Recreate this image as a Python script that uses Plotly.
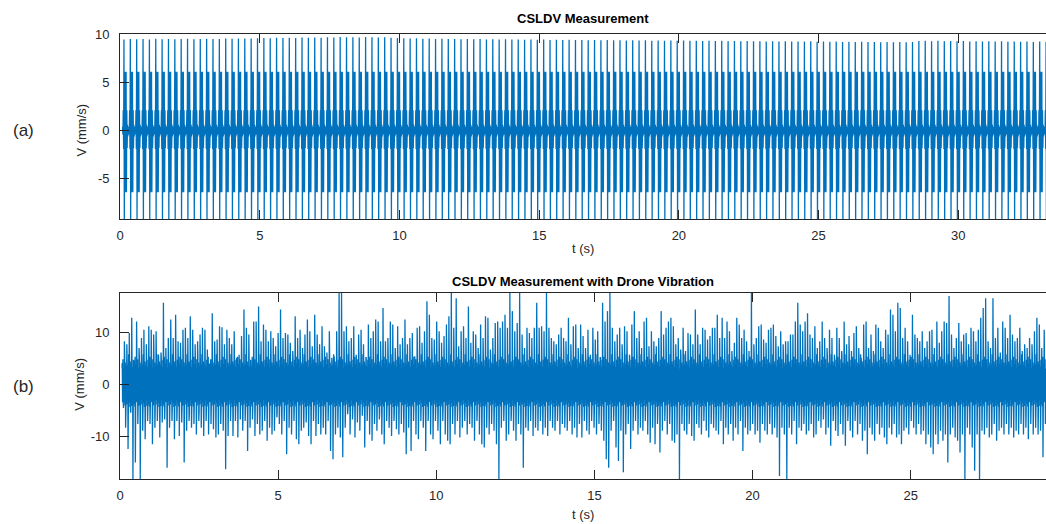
import plotly.graph_objects as go

# ---------------- (a) CSLDV Measurement ----------------
# pulse train: one pulse per laser scan period (values read from the picture)
scan_period = 0.2276          # s, spacing of the tall pulses
first_pulse_time = 0.14       # s
# one scan period of the signal (mm/s); None marks the tall peak of that pulse
pulse_template = [0.4, -0.4, 2.1, -1.9, None, -9.5, 6.1, -6.4, 6.0, -6.3, 6.1, -6.4,
                  2.1, -1.8, 0.6, -0.6, 0.4, -0.4]
peak_index = 4
# tall peak heights, pulse by pulse (mm/s)
pulse_peaks = [
    9.45, 9.50, 9.48, 9.50, 9.46, 9.52, 9.48, 9.50, 9.47, 9.50,
    9.52, 9.48, 9.50, 9.53, 9.49, 9.51, 9.55, 9.52, 9.54, 9.56,
    9.55, 9.58, 9.60, 9.57, 9.62, 9.60, 9.63, 9.61, 9.65, 9.62,
    9.66, 9.64, 9.68, 9.65, 9.70, 9.67, 9.69, 9.66, 9.70, 9.68,
    9.65, 9.67, 9.63, 9.60, 9.58, 9.55, 9.57, 9.53, 9.55, 9.50,
    9.52, 9.49, 9.51, 9.48, 9.50, 9.47, 9.49, 9.46, 9.48, 9.45,
    9.47, 9.44, 9.46, 9.43, 9.45, 9.42, 9.44, 9.41, 9.43, 9.40,
    9.42, 9.39, 9.41, 9.38, 9.40, 9.37, 9.39, 9.36, 9.38, 9.35,
    9.37, 9.34, 9.36, 9.33, 9.35, 9.32, 9.34, 9.33, 9.35, 9.31,
    9.33, 9.30, 9.32, 9.29, 9.31, 9.28, 9.30, 9.27, 9.29, 9.26,
    9.28, 9.25, 9.27, 9.24, 9.26, 9.23, 9.25, 9.24, 9.26, 9.22,
    9.24, 9.21, 9.23, 9.20, 9.22, 9.19, 9.21, 9.18, 9.20, 9.17,
    9.19, 9.16, 9.18, 9.17, 9.19, 9.30, 9.32, 9.28, 9.31, 9.27,
    9.30, 9.26, 9.29, 9.25, 9.28, 9.24, 9.27, 9.23, 9.26, 9.22,
    9.25, 9.21, 9.24, 9.20, 9.23, 9.22,
]

# ---------------- (b) CSLDV Measurement with Drone Vibration ----------------
record_start_b = 0.06         # s
record_end_b = 29.3           # s
# successive upper extremes of the noisy record (mm/s), read left to right
upper_peaks = [
    # 0 - 7.4 s
    3.3, 8.4, 7.8, 10.0, 12.9, 4.6, 12.2, 7.1, 9.0, 10.6,
    7.8, 11.3, 10.6, 9.7, 10.3, 5.8, 6.2, 15.8, 7.1, 9.0,
    12.6, 9.0, 13.5, 8.4, 8.1, 10.6, 11.0, 9.0, 13.2, 10.6,
    7.8, 8.4, 9.7, 11.0, 10.6, 6.8, 3.3, 13.8, 8.4, 8.7,
    11.3, 11.1, 7.8, 10.6, 9.0, 7.8, 10.3, 5.2, 5.8, 9.4,
    14.5, 11.0, 9.7, 3.6, 12.2, 12.2, 15.1, 8.4, 11.6, 10.6,
    8.4, 10.3, 9.0, 7.4, 10.0, 14.5, 9.0, 10.0, 9.7, 8.1,
    6.5, 13.2, 9.0, 10.6, 7.1, 9.7, 12.6, 10.3, 7.4, 13.5,
    9.7, 7.8, 11.3, 7.4, 6.2, 10.3, 5.2, 5.5, 10.3, 17.7,
    # 7.4 - 14.7 s
    17.7, 10.3, 11.3, 8.4, 9.0, 11.3, 5.8, 9.7, 10.6, 7.8,
    5.2, 11.6, 9.0, 10.3, 12.6, 12.2, 8.4, 14.8, 8.4, 9.0,
    12.2, 11.6, 7.1, 11.3, 7.8, 9.0, 12.6, 7.8, 9.0, 10.0,
    5.5, 11.0, 11.3, 8.1, 10.3, 16.1, 13.5, 9.0, 8.7, 12.2,
    10.3, 8.1, 9.4, 11.6, 13.2, 17.7, 11.0, 16.7, 7.4, 10.3,
    11.3, 9.0, 15.1, 8.1, 10.3, 9.7, 7.1, 11.6, 9.0, 13.2,
    12.9, 6.8, 9.0, 11.9, 12.2, 11.0, 12.2, 13.5, 11.0, 17.7,
    14.2, 10.3, 11.9, 17.7, 9.7, 7.1, 11.0, 10.0, 9.0, 11.0,
    15.8, 11.0, 11.3, 10.3, 17.7, 11.0, 9.0, 8.4, 7.8, 9.7,
    11.0, 9.0, 8.4, 12.9, 7.8, 11.3, 11.6, 7.1,
    # 14.7 - 22.1 s
    11.6, 9.4, 7.1, 10.6, 5.8, 11.0, 8.7, 10.3, 5.2, 15.8,
    12.2, 14.2, 17.7, 11.0, 8.4, 9.7, 11.0, 7.8, 11.3, 10.3,
    5.8, 11.6, 14.2, 9.0, 10.3, 7.1, 12.2, 12.9, 7.4, 10.3,
    8.4, 7.4, 9.0, 14.2, 9.7, 11.0, 12.2, 12.9, 11.3, 7.8,
    9.0, 6.8, 11.0, 6.5, 10.0, 9.7, 7.8, 14.5, 9.7, 7.8,
    11.0, 10.6, 8.7, 9.4, 11.0, 11.0, 13.5, 9.0, 12.9, 9.0,
    12.2, 10.3, 6.5, 8.1, 12.9, 11.6, 9.0, 10.6, 8.4, 6.5,
    17.7, 7.8, 9.0, 11.3, 11.6, 8.7, 8.1, 10.6, 11.0, 11.6,
    9.4, 7.4, 10.3, 7.8, 8.4, 8.4, 9.7, 9.7, 12.2, 15.8,
    11.6, 10.3, 12.2, 13.8, 9.7, 9.0,
    # 22.1 - 29.3 s
    11.3, 7.1, 8.4, 12.2, 9.0, 7.1, 10.6, 9.0, 5.8, 11.0,
    9.0, 6.5, 12.2, 7.8, 9.4, 6.5, 10.0, 11.3, 7.1, 5.2,
    11.6, 12.2, 7.1, 9.7, 6.5, 11.6, 11.0, 8.4, 7.1, 10.6,
    9.7, 14.5, 13.5, 10.3, 15.8, 14.8, 9.0, 11.0, 8.4, 5.8,
    13.5, 9.7, 9.0, 8.4, 10.3, 7.1, 8.4, 10.3, 10.6, 7.1,
    12.2, 8.1, 10.3, 12.2, 11.9, 17.1, 9.7, 7.1, 9.0, 11.9,
    8.4, 9.7, 10.0, 7.8, 11.0, 10.3, 8.4, 10.6, 12.9, 14.8,
    16.7, 8.4, 7.1, 16.7, 9.0, 11.0, 6.2, 12.2, 11.0, 9.0,
    13.5, 9.7, 8.4, 9.0, 11.0, 6.5, 7.8, 7.1, 9.0, 7.8,
    10.3, 12.9, 11.6, 7.1, 10.6,
]
# successive lower extremes of the noisy record (mm/s)
lower_peaks = [
    # 0 - 7.4 s
    -2.5, -8.3, -12.4, -5.1, -18.4, -15.0, -7.6, -18.4, -8.9, -10.5,
    -7.0, -7.6, -11.5, -8.3, -7.0, -10.2, -7.3, -6.7, -16.0, -8.3,
    -7.0, -10.5, -7.0, -9.9, -7.3, -15.0, -8.9, -7.0, -8.3, -7.6,
    -9.6, -7.0, -8.3, -9.9, -7.0, -9.6, -7.6, -8.6, -10.2, -9.6,
    -7.6, -8.9, -16.3, -9.9, -7.0, -9.9, -7.0, -10.2, -6.7, -8.9,
    -7.0, -12.8, -8.3, -6.7, -9.9, -7.6, -9.6, -8.9, -7.0, -10.8,
    -8.3, -9.6, -8.9, -6.3, -7.6, -9.6, -7.0, -13.4, -8.3, -9.6,
    -7.0, -10.5, -11.5, -8.9, -8.3, -7.3, -9.9, -11.5, -7.0, -9.9,
    -7.6, -9.6, -8.3, -9.6, -7.0, -12.8, -14.4, -9.6, -8.3, -10.2,
    # 7.4 - 14.7 s
    -14.0, -8.3, -5.7, -9.6, -6.7, -10.2, -7.3, -8.9, -6.0, -12.1,
    -7.0, -9.6, -10.8, -7.6, -8.9, -6.7, -9.6, -11.5, -7.0, -8.3,
    -9.9, -7.0, -8.6, -9.6, -7.6, -9.2, -13.4, -8.3, -12.8, -7.0,
    -9.6, -10.5, -7.0, -8.3, -12.8, -7.0, -9.6, -10.5, -7.0, -8.9,
    -11.5, -7.0, -9.6, -10.8, -11.5, -7.6, -9.6, -7.0, -10.2, -8.3,
    -7.0, -9.6, -7.6, -8.3, -10.8, -7.0, -9.6, -11.5, -12.1, -8.3,
    -9.6, -7.6, -8.9, -11.5, -18.2, -8.3, -7.0, -10.8, -9.6, -7.0,
    -8.9, -10.8, -7.6, -9.6, -16.0, -8.3, -8.9, -7.0, -9.9, -8.3,
    -8.9, -7.0, -9.6, -8.3, -9.9, -7.0, -8.3, -8.9, -7.0, -9.6,
    -7.6, -8.3, -8.9, -7.0, -9.6, -8.3, -10.2, -7.6,
    # 14.7 - 22.1 s
    -10.2, -7.0, -8.9, -9.6, -7.0, -8.3, -9.6, -7.6, -8.9, -10.8,
    -14.4, -16.0, -8.9, -7.0, -12.1, -14.7, -8.9, -16.9, -9.6, -7.6,
    -12.4, -8.9, -7.0, -9.6, -8.3, -8.9, -7.0, -9.6, -11.2, -8.3,
    -11.5, -7.6, -13.1, -8.9, -7.0, -9.6, -7.6, -10.8, -11.2, -9.6,
    -18.4, -7.6, -8.9, -9.6, -7.6, -9.9, -10.8, -7.6, -8.3, -9.6,
    -7.0, -8.9, -10.2, -7.6, -8.3, -8.9, -9.6, -7.0, -11.5, -8.3,
    -9.6, -7.6, -10.8, -8.3, -9.6, -7.0, -12.8, -8.3, -9.6, -8.9,
    -7.6, -9.6, -8.9, -11.2, -7.6, -8.9, -9.6, -7.6, -9.6, -8.3,
    -10.2, -17.6, -8.3, -9.6, -18.4, -8.3, -9.6, -7.0, -11.5, -8.3,
    -8.9, -7.6, -9.6, -8.9, -7.6, -10.2,
    # 22.1 - 29.3 s
    -9.6, -7.0, -8.3, -6.7, -9.6, -8.3, -11.8, -7.0, -8.9, -9.9,
    -7.6, -9.6, -11.8, -7.0, -8.9, -10.2, -7.0, -9.6, -7.6, -10.8,
    -8.9, -13.4, -8.3, -9.6, -10.8, -7.6, -9.6, -8.3, -10.2, -11.5,
    -8.3, -9.6, -7.6, -10.2, -9.6, -11.5, -8.9, -8.3, -9.6, -7.0,
    -8.3, -9.6, -7.6, -9.6, -8.9, -11.5, -9.6, -12.1, -13.4, -9.6,
    -11.5, -8.9, -10.8, -9.6, -15.0, -9.6, -8.3, -10.2, -10.8, -13.1,
    -9.6, -18.4, -8.3, -9.6, -12.1, -16.6, -9.6, -18.4, -8.9, -9.6,
    -8.3, -10.2, -9.6, -7.6, -10.8, -8.9, -8.3, -9.6, -7.6, -9.6,
    -8.3, -10.2, -8.9, -9.6, -7.6, -9.6, -8.3, -10.5, -7.6, -9.6,
    -8.3, -9.6, -8.9, -14.0, -7.6,
]
# levels of the dense low-amplitude band between the extremes (mm/s)
core_levels = [4.2, -3.4, 4.9, -4.5, 3.1, -4.0, 5.6, -3.2, 4.3, -5.1,
               3.6, -3.8, 4.7, -2.9, 3.9, -4.7, 5.9, -3.5, 3.2, -4.3,
               4.5, -5.4, 3.8, -4.1, 5.2, -3.0, 3.4, -4.8, 4.8, -3.7,
               3.0, -4.2, 5.4, -4.4, 4.0, -3.3]

# ---------------- build the series ----------------
t_a, v_a = [], []
n_tpl = len(pulse_template)
for k, peak in enumerate(pulse_peaks):
    base = first_pulse_time + k * scan_period
    for j, val in enumerate(pulse_template):
        t_a.append(base + (j - peak_index) * scan_period / n_tpl)
        v_a.append(peak if val is None else val)

n_b = min(len(upper_peaks), len(lower_peaks))
step_b = (record_end_b - record_start_b) / n_b
per_half = 3                    # dense-band samples between two extremes
sub = step_b / (2 * (per_half + 1))
t_b, v_b = [], []
c = 0
for i in range(n_b):
    t0 = record_start_b + i * step_b
    seq = [upper_peaks[i]]
    for _ in range(per_half):
        seq.append(core_levels[c % len(core_levels)]); c += 1
    seq.append(lower_peaks[i])
    for _ in range(per_half):
        seq.append(core_levels[c % len(core_levels)]); c += 1
    for j, val in enumerate(seq):
        t_b.append(t0 + j * sub)
        v_b.append(val)

# ---------------- figure ----------------
W, H = 1046, 524
LINE = "#0072BD"
INK = "#262626"
FONT = "Liberation Sans, Arial, Helvetica, sans-serif"

def px_x(x):
    return ((x - 4) / 0.9957) / W

def px_y(y):
    return 1 - ((y - 6) / 0.99) / H

fig = go.Figure()
fig.add_trace(go.Scatter(x=t_a, y=v_a, mode="lines",
                         line=dict(color=LINE, width=1.3, simplify=False),
                         xaxis="x", yaxis="y", showlegend=False, hoverinfo="skip"))
fig.add_trace(go.Scatter(x=t_b, y=v_b, mode="lines",
                         line=dict(color=LINE, width=1.3, simplify=False),
                         xaxis="x2", yaxis="y2", showlegend=False, hoverinfo="skip"))

ax_common = dict(showgrid=False, zeroline=False, showline=True, linecolor=INK, linewidth=1,
                 ticks="inside", ticklen=9, tickwidth=1, tickcolor=INK,
                 tickfont=dict(family=FONT, size=13, color=INK))

def ticks(vals):
    return dict(tickvals=vals, ticktext=[str(v) for v in vals])

fig.update_layout(
    width=W, height=H,
    margin=dict(l=0, r=0, t=0, b=0),
    paper_bgcolor="white", plot_bgcolor="white",
    xaxis=dict(domain=[px_x(120), 1.0], anchor="y", range=[0, 33.14],
               mirror="ticks", ticklabelstandoff=4,
               **ticks([0, 5, 10, 15, 20, 25, 30]), **ax_common),
    yaxis=dict(domain=[px_y(219), px_y(32.7)], anchor="x", range=[-9.2, 10.06],
               mirror=False, ticklabelstandoff=7, **ticks([-5, 0, 5, 10]), **ax_common),
    xaxis2=dict(domain=[px_x(120), 1.0], anchor="y2", range=[0, 29.28],
                mirror="ticks", ticklabelstandoff=4,
                **ticks([0, 5, 10, 15, 20, 25]), **ax_common),
    yaxis2=dict(domain=[px_y(480), px_y(292.7)], anchor="x2", range=[-18.27, 17.75],
                mirror=False, ticklabelstandoff=7, **ticks([-10, 0, 10]), **ax_common),
)

def text(x, y, s, size=13, bold=False, angle=0):
    fig.add_annotation(x=px_x(x), y=px_y(y), xref="paper", yref="paper",
                       text=f"<b>{s}</b>" if bold else s, showarrow=False,
                       font=dict(family=FONT, size=size, color="#000000" if bold else INK),
                       xanchor="center", yanchor="middle", textangle=angle)

text(583, 18, "CSLDV Measurement", bold=True)
text(583, 281, "CSLDV Measurement with Drone Vibration", bold=True)
text(583, 248, "t (s)")
text(583, 515, "t (s)")
text(82, 130, "V (mm/s)", angle=-90)
text(80, 385, "V (mm/s)", angle=-90)
text(23, 130, "(a)", size=17)
text(23, 387, "(b)", size=17)

fig.write_html("out.html")
